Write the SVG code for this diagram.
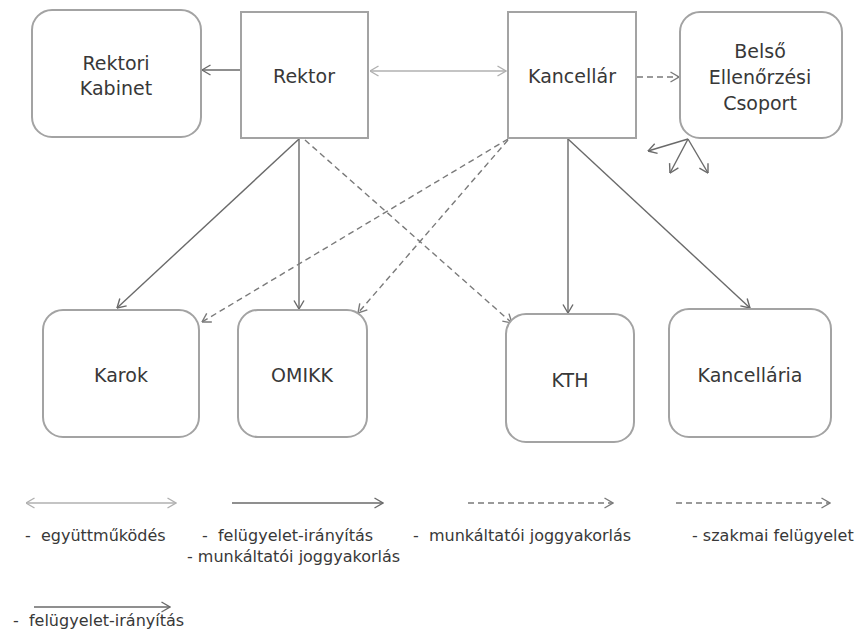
<svg xmlns="http://www.w3.org/2000/svg" width="865" height="632" viewBox="0 0 865 632">
<defs>
<style>
.box{fill:#fff;stroke:#a3a3a3;stroke-width:2}
.t{font-family:"DejaVu Sans","Liberation Sans",sans-serif;font-size:19px;fill:#383838;text-anchor:middle}
.lg{font-family:"DejaVu Sans","Liberation Sans",sans-serif;font-size:16px;fill:#383838}
.s{fill:none;stroke:#6a6a6a;stroke-width:1.4}
.d{fill:none;stroke:#7a7a7a;stroke-width:1.4;stroke-dasharray:6 4}
.c{fill:none;stroke:#b0b0b0;stroke-width:1.4}
</style>
<marker id="a" viewBox="0 0 10 12" refX="9.5" refY="6" markerWidth="10" markerHeight="12" markerUnits="userSpaceOnUse" orient="auto">
<path d="M1,1 L9.5,6 L1,11" fill="none" stroke="#6a6a6a" stroke-width="1.4"/>
</marker>
<marker id="ad" viewBox="0 0 10 12" refX="9.5" refY="6" markerWidth="10" markerHeight="12" markerUnits="userSpaceOnUse" orient="auto">
<path d="M1,1 L9.5,6 L1,11" fill="none" stroke="#7a7a7a" stroke-width="1.4"/>
</marker>
<marker id="ac" viewBox="0 0 10 12" refX="9.5" refY="6" markerWidth="10" markerHeight="12" markerUnits="userSpaceOnUse" orient="auto-start-reverse">
<path d="M1,1 L9.5,6 L1,11" fill="none" stroke="#b0b0b0" stroke-width="1.4"/>
</marker>
</defs>
<rect width="865" height="632" fill="#fff"/>

<g id="connectors">
<line class="s" x1="241" y1="70" x2="202" y2="70" marker-end="url(#a)"/>
<line class="c" x1="370" y1="71" x2="506" y2="71" marker-start="url(#ac)" marker-end="url(#ac)"/>
<line class="d" x1="637" y1="77" x2="679" y2="77" marker-end="url(#ad)"/>
<line class="s" x1="299" y1="139" x2="117" y2="308" marker-end="url(#a)"/>
<line class="s" x1="299" y1="139" x2="299" y2="309" marker-end="url(#a)"/>
<line class="d" x1="305" y1="140" x2="512" y2="323" marker-end="url(#ad)"/>
<line class="d" x1="508" y1="139" x2="202" y2="322" marker-end="url(#ad)"/>
<line class="d" x1="508" y1="140" x2="358" y2="313" marker-end="url(#ad)"/>
<line class="s" x1="568" y1="139" x2="568" y2="313" marker-end="url(#a)"/>
<line class="s" x1="568" y1="139" x2="750" y2="308" marker-end="url(#a)"/>
<line class="s" x1="688" y1="139" x2="648" y2="151" marker-end="url(#a)"/>
<line class="s" x1="688" y1="139" x2="670" y2="173" marker-end="url(#a)"/>
<line class="s" x1="688" y1="139" x2="708" y2="173" marker-end="url(#a)"/>
</g>

<g id="rektori-kabinet">
<rect class="box" x="32" y="10" width="169" height="127" rx="20"/>
<text class="t" x="116" y="70">Rektori</text>
<text class="t" x="116" y="95">Kabinet</text>
</g>
<g id="rektor">
<rect class="box" x="241" y="12" width="127" height="126"/>
<text class="t" x="304" y="83">Rektor</text>
</g>
<g id="kancellar">
<rect class="box" x="508" y="12" width="128" height="126"/>
<text class="t" x="572" y="83">Kancellár</text>
</g>
<g id="belso">
<rect class="box" x="680" y="12" width="162" height="126" rx="20"/>
<text class="t" x="760" y="58">Belső</text>
<text class="t" x="760" y="84">Ellenőrzési</text>
<text class="t" x="760" y="110">Csoport</text>
</g>
<g id="karok">
<rect class="box" x="43" y="310" width="156" height="127" rx="20"/>
<text class="t" x="121" y="382">Karok</text>
</g>
<g id="omikk">
<rect class="box" x="238" y="310" width="129" height="127" rx="20"/>
<text class="t" x="302" y="382">OMIKK</text>
</g>
<g id="kth">
<rect class="box" x="506" y="314" width="128" height="128" rx="20"/>
<text class="t" x="570" y="387">KTH</text>
</g>
<g id="kancellaria">
<rect class="box" x="669" y="309" width="162" height="128" rx="20"/>
<text class="t" x="750" y="382">Kancellária</text>
</g>

<g id="legend">
<line class="c" x1="26" y1="503" x2="176" y2="503" marker-start="url(#ac)" marker-end="url(#ac)"/>
<line class="s" x1="232" y1="503" x2="383" y2="503" marker-end="url(#a)"/>
<line class="d" x1="468" y1="503" x2="613" y2="503" marker-end="url(#ad)"/>
<line class="d" x1="676" y1="503" x2="830" y2="503" marker-end="url(#ad)"/>
<line class="s" x1="34" y1="607" x2="170" y2="607" marker-end="url(#a)"/>
<text class="lg" x="25" y="541" xml:space="preserve">-  együttműködés</text>
<text class="lg" x="202" y="541" xml:space="preserve">-  felügyelet-irányítás</text>
<text class="lg" x="187" y="562">- munkáltatói joggyakorlás</text>
<text class="lg" x="413" y="541" xml:space="preserve">-  munkáltatói joggyakorlás</text>
<text class="lg" x="692" y="541">- szakmai felügyelet</text>
<text class="lg" x="13" y="626" xml:space="preserve">-  felügyelet-irányítás</text>
</g>
</svg>
